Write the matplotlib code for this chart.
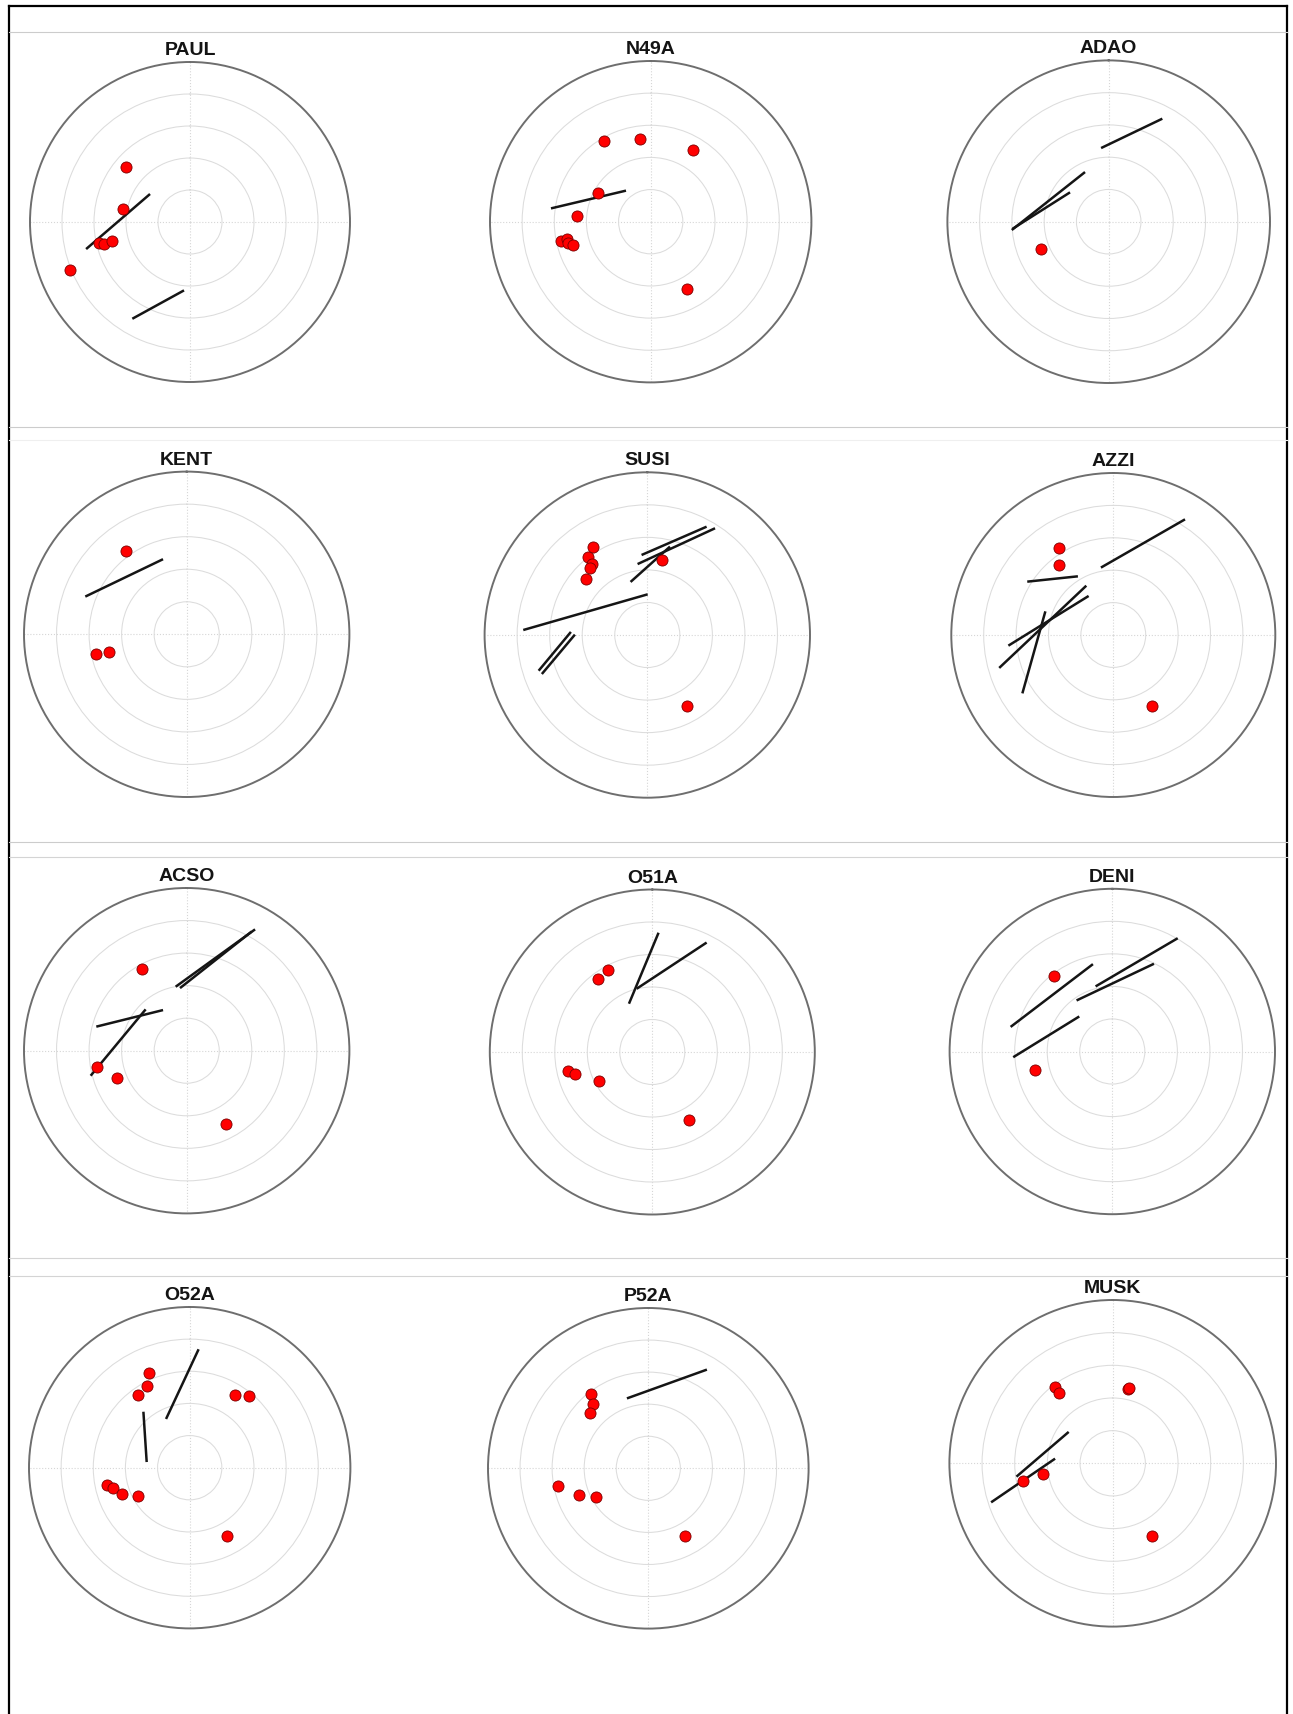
import matplotlib
matplotlib.use('Agg')
import matplotlib.pyplot as plt
import numpy as np
from matplotlib.lines import Line2D

# --- per-station data: event back-azimuth (deg), normalised distance, and
# --- splitting bars given as [baz_start, r_start, baz_end, r_end]
PAUL_BAZ = [310.7, 280.9, 257.2, 255.8, 256.3, 248.1]
PAUL_R = [0.527, 0.429, 0.583, 0.552, 0.500, 0.809]
PAUL_SEG = [[255.4, 0.671, 305.0, 0.305], [210.8, 0.704, 185.0, 0.429]]

N49A_BAZ = [330.1, 352.7, 30.8, 298.4, 274.7, 257.7, 258.1, 255.8, 253.2, 151.3]
N49A_R = [0.582, 0.521, 0.519, 0.370, 0.460, 0.573, 0.534, 0.533, 0.503, 0.475]
N49A_SEG = [[277.6, 0.626, 321.5, 0.247]]

ADAO_BAZ = [247.9]
ADAO_R = [0.455]
ADAO_SEG = [[354.1, 0.459, 27.5, 0.720], [265.1, 0.603, 334.5, 0.341],
            [265.8, 0.597, 307.2, 0.301]]

KENT_BAZ = [323.9, 258.0, 257.5]
KENT_R = [0.634, 0.570, 0.491]
KENT_SEG = [[290.4, 0.665, 342.5, 0.484]]

SUSI_BAZ = [328.6, 322.6, 321.8, 319.6, 312.6, 10.9, 151.0]
SUSI_R = [0.636, 0.601, 0.553, 0.544, 0.512, 0.467, 0.499]
SUSI_SEG = [[272.3, 0.763, 0.5, 0.250], [355.9, 0.493, 28.7, 0.759],
            [352.2, 0.440, 32.4, 0.777], [342.5, 0.342, 14.4, 0.561],
            [251.8, 0.703, 272.3, 0.470], [249.7, 0.691, 270.3, 0.445]]

AZZI_BAZ = [328.2, 321.9, 151.2]
AZZI_R = [0.632, 0.547, 0.500]
AZZI_SEG = [[349.6, 0.423, 31.8, 0.840], [301.8, 0.625, 328.9, 0.423],
            [253.9, 0.733, 331.3, 0.347], [264.2, 0.651, 327.7, 0.285],
            [237.3, 0.667, 289.2, 0.444]]

ACSO_BAZ = [331.2, 259.7, 248.6, 151.5]
ACSO_R = [0.570, 0.560, 0.460, 0.511]
ACSO_SEG = [[350.2, 0.399, 29.4, 0.856], [353.9, 0.387, 28.6, 0.834],
            [284.9, 0.575, 329.8, 0.289], [255.4, 0.610, 315.2, 0.358]]

O51A_BAZ = [331.7, 323.6, 257.6, 254.1, 241.5, 151.6]
O51A_R = [0.570, 0.560, 0.533, 0.494, 0.373, 0.478]
O51A_SEG = [[334.2, 0.330, 3.0, 0.735], [346.1, 0.401, 26.4, 0.752]]

DENI_BAZ = [322.3, 256.4]
DENI_R = [0.590, 0.487]
DENI_SEG = [[283.6, 0.643, 347.5, 0.550], [266.7, 0.610, 316.7, 0.296],
            [345.6, 0.413, 30.0, 0.804], [325.0, 0.383, 25.4, 0.597]]

O52A_BAZ = [336.5, 332.2, 324.4, 32.1, 39.9, 258.2, 255.1, 249.1, 241.4, 151.5]
O52A_R = [0.640, 0.574, 0.556, 0.534, 0.579, 0.526, 0.492, 0.453, 0.369, 0.482]
O52A_SEG = [[334.1, 0.337, 4.3, 0.739], [320.4, 0.452, 277.5, 0.270]]

P52A_BAZ = [322.4, 319.3, 313.2, 258.9, 248.9, 241.2, 151.5]
P52A_R = [0.585, 0.529, 0.501, 0.574, 0.461, 0.375, 0.480]
P52A_SEG = [[343.0, 0.456, 30.7, 0.716]]

MUSK_BAZ = [323.1, 322.5, 11.4, 12.5, 259.1, 261.3, 151.8]
MUSK_R = [0.584, 0.540, 0.464, 0.470, 0.561, 0.434, 0.505]
MUSK_SEG = [[262.1, 0.595, 305.5, 0.331], [252.2, 0.782, 274.6, 0.354]]

panels = [
    ('PAUL', PAUL_BAZ, PAUL_R, PAUL_SEG),
    ('N49A', N49A_BAZ, N49A_R, N49A_SEG),
    ('ADAO', ADAO_BAZ, ADAO_R, ADAO_SEG),
    ('KENT', KENT_BAZ, KENT_R, KENT_SEG),
    ('SUSI', SUSI_BAZ, SUSI_R, SUSI_SEG),
    ('AZZI', AZZI_BAZ, AZZI_R, AZZI_SEG),
    ('ACSO', ACSO_BAZ, ACSO_R, ACSO_SEG),
    ('O51A', O51A_BAZ, O51A_R, O51A_SEG),
    ('DENI', DENI_BAZ, DENI_R, DENI_SEG),
    ('O52A', O52A_BAZ, O52A_R, O52A_SEG),
    ('P52A', P52A_BAZ, P52A_R, P52A_SEG),
    ('MUSK', MUSK_BAZ, MUSK_R, MUSK_SEG),
]

# panel centre / radius in pixels
layout = [
    (190.0, 222.0, 160.0), (650.7, 221.7, 160.7), (1108.7, 221.7, 161.3),
    (186.7, 634.3, 162.7), (647.3, 635.0, 162.7), (1113.3, 635.0, 162.0),
    (186.7, 1050.7, 162.7), (652.3, 1052.0, 162.5), (1112.3, 1051.5, 162.7),
    (189.7, 1467.7, 160.7), (648.3, 1468.3, 160.3), (1112.7, 1463.3, 163.3),
]

W, H = 1293, 1714
fig = plt.figure(figsize=(W / 100, H / 100), dpi=100)
fig.patch.set_facecolor('white')


def box(cx, cy, rad):
    return [(cx - rad) / W, 1 - (cy + rad) / H, 2 * rad / W, 2 * rad / H]


for (name, baz, rr, segs), (cx, cy, rad) in zip(panels, layout):
    ax = fig.add_axes(box(cx, cy, rad), projection='polar')
    ax.set_theta_zero_location('N')
    ax.set_theta_direction(-1)
    ax.set_ylim(0, 1)
    ax.set_yticks([0.2, 0.4, 0.6, 0.8])
    ax.set_yticklabels([])
    ax.set_xticks(np.radians([0, 90, 180, 270]))
    ax.set_xticklabels([])
    ax.tick_params(length=0)
    ax.yaxis.grid(True, color='#dcdcdc', lw=0.75, ls='-')
    ax.xaxis.grid(True, color='#d6d6d6', lw=0.8, ls=':')
    ax.spines['polar'].set_color('#6e6e6e')
    ax.spines['polar'].set_linewidth(1.4)

    for s in segs:
        ax.plot(np.radians([s[0], s[2]]), [s[1], s[3]], color='#151515',
                lw=1.8, solid_capstyle='butt', zorder=2)
    ax.plot(np.radians(baz), rr, 'o', ms=8, mfc='#ff0000', mec='#7a0000',
            mew=0.6, zorder=3, clip_on=False)
    ax.set_title(name, fontsize=14, fontweight='bold', pad=5,
                 family='Liberation Sans', color='#141414')

# outer frame
frame_kw = dict(transform=fig.transFigure, color='black', lw=1.6)
fig.add_artist(Line2D([9 / W, 1287 / W], [1 - 5.7 / H, 1 - 5.7 / H], **frame_kw))
fig.add_artist(Line2D([9 / W, 9 / W], [0, 1 - 5.7 / H], **frame_kw))
fig.add_artist(Line2D([1287 / W, 1287 / W], [0, 1 - 5.7 / H], **frame_kw))

# thin row separators
for y, c in [(31.7, '#cccccc'), (427, '#cccccc'), (440, '#efefef'),
             (841.7, '#cccccc'), (857.3, '#d4d4d4'), (1258.3, '#d4d4d4'),
             (1276, '#d4d4d4')]:
    fig.add_artist(Line2D([9 / W, 1287 / W], [1 - y / H, 1 - y / H],
                          transform=fig.transFigure, color=c, lw=0.8))

fig.savefig('out.png', dpi=100, facecolor='white')
